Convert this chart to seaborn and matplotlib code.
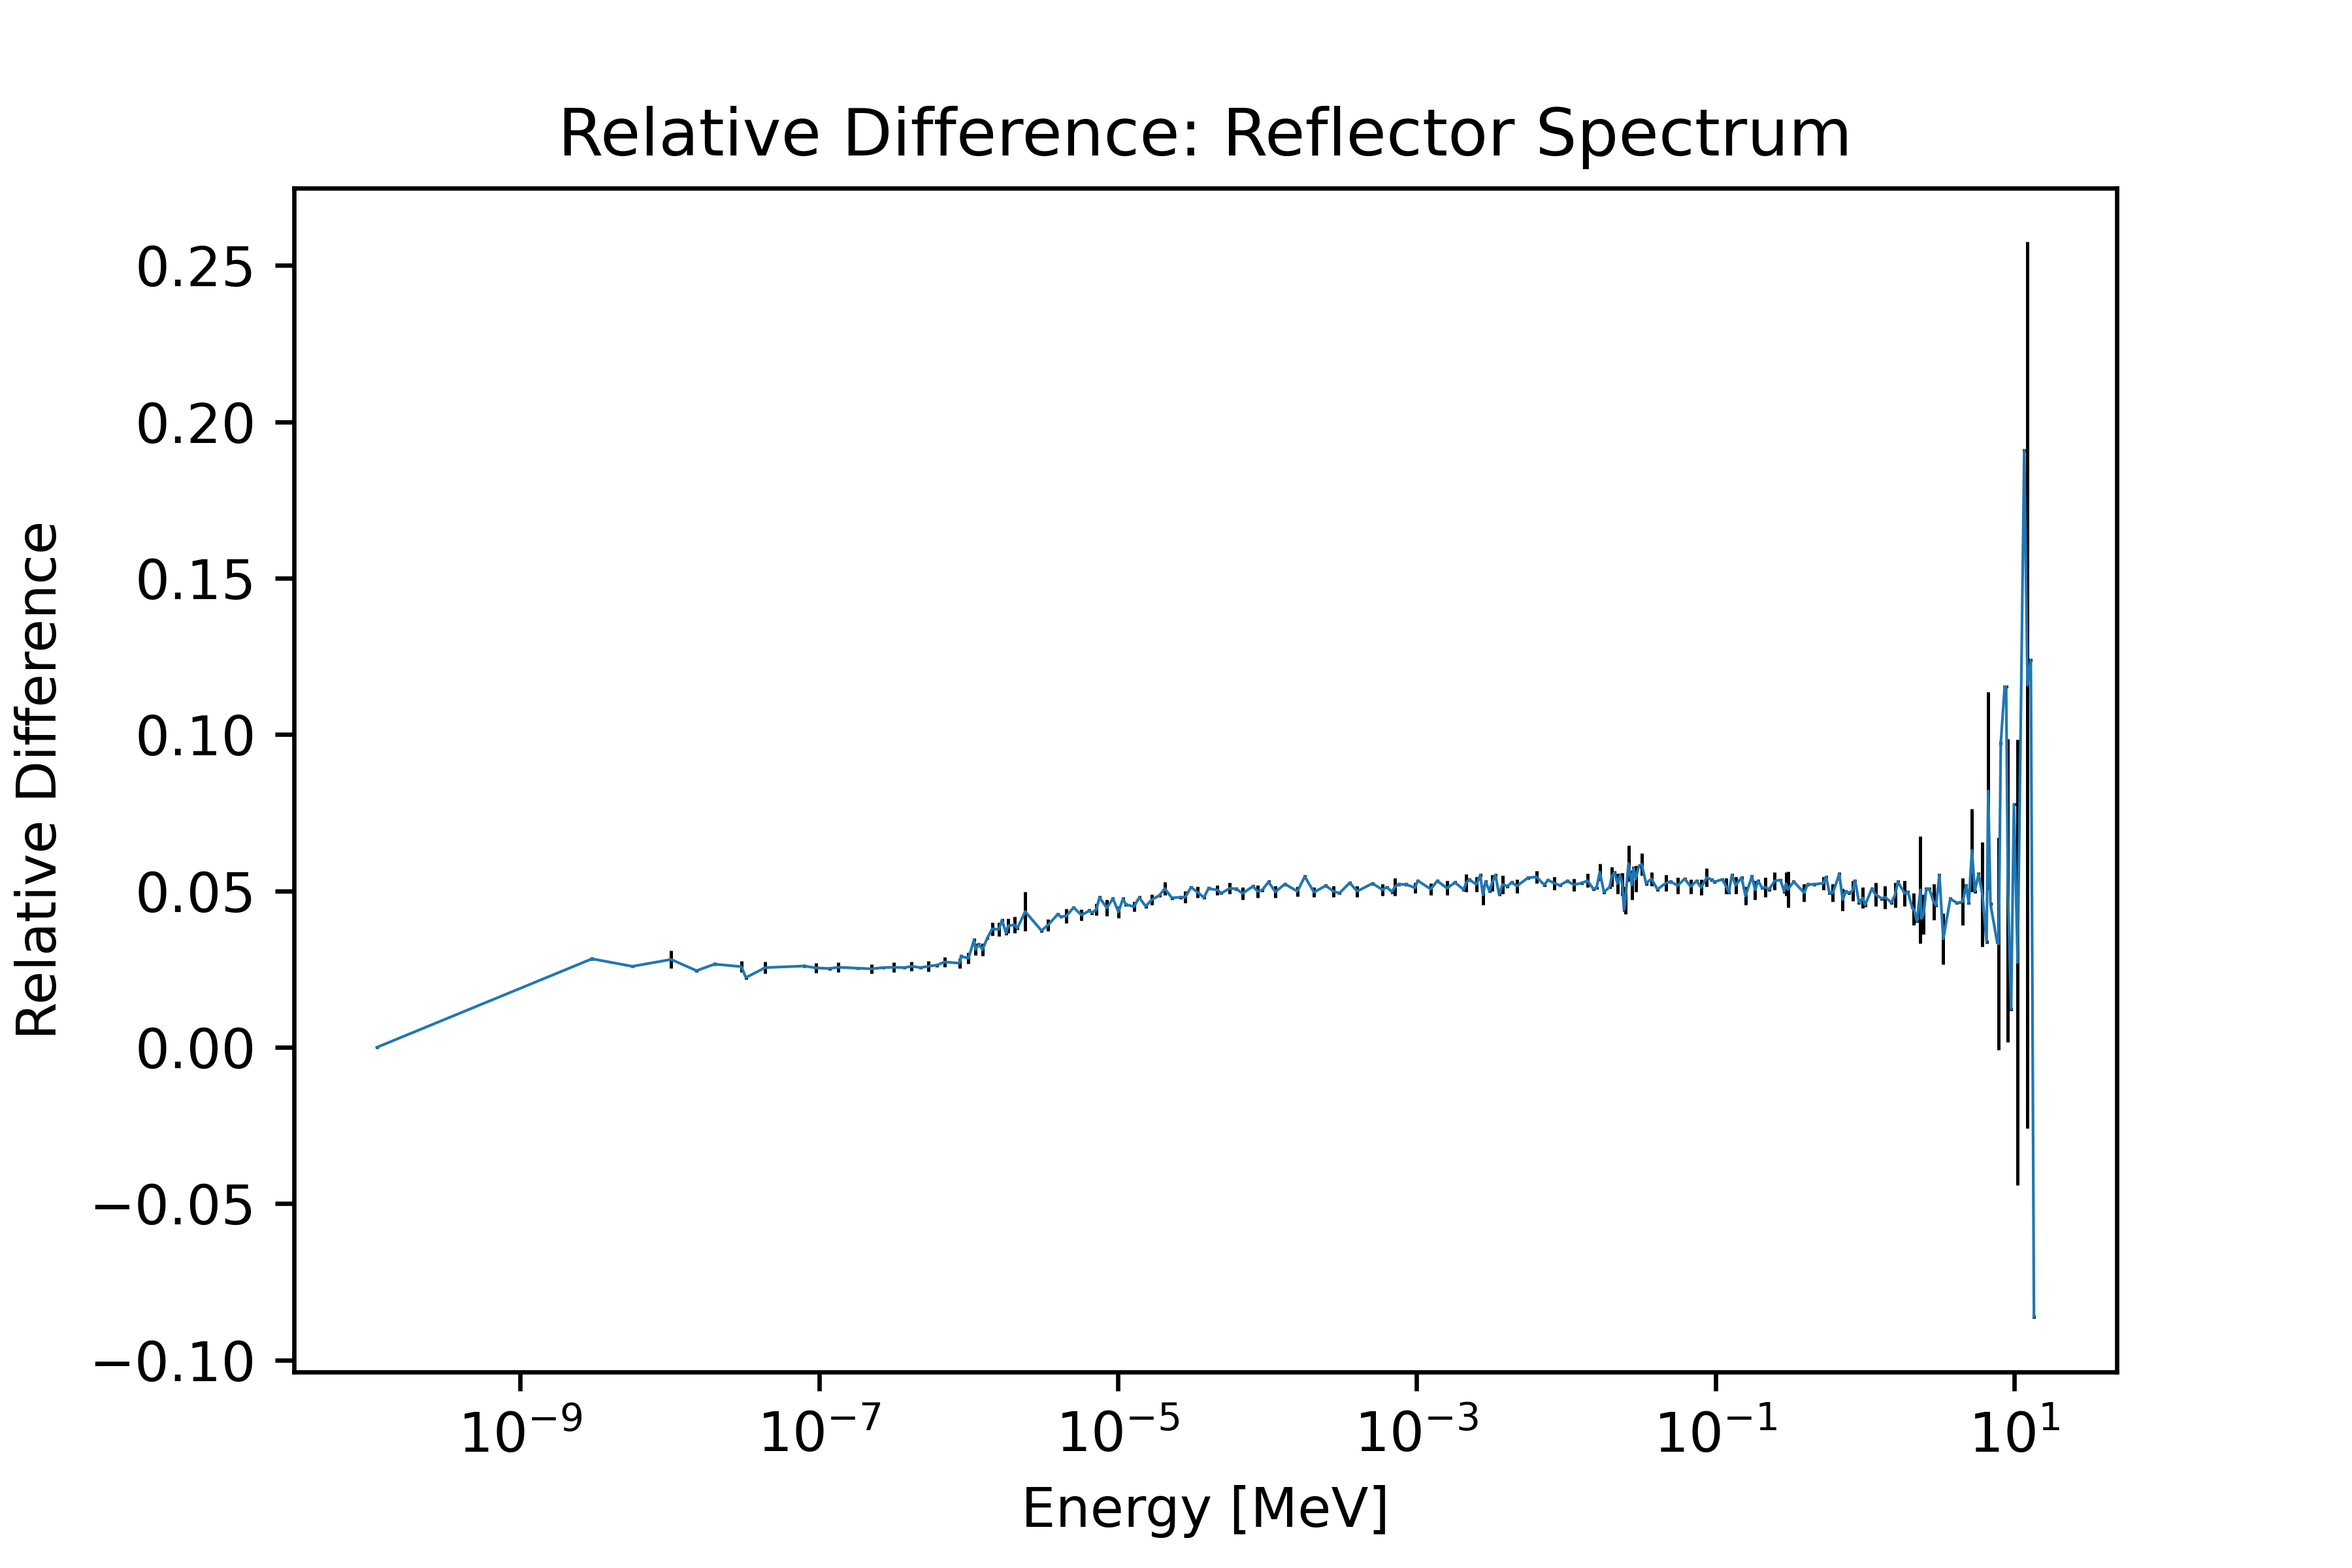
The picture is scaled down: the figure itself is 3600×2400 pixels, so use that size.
import numpy as np
import matplotlib
matplotlib.use("Agg")
import matplotlib.pyplot as plt
import seaborn as sns

# energy bins, stored as log10(E / MeV)
log_e_mev = [
    -9.96, -8.52, -8.25, -7.99, -7.82, -7.70, -7.52, -7.49, -7.36, -7.10,
    -7.02, -6.93, -6.87, -6.74, -6.65, -6.57, -6.50, -6.43, -6.38, -6.32,
    -6.27, -6.21, -6.16, -6.06, -6.05, -6.00, -5.963, -5.952, -5.930, -5.907,
    -5.874, -5.841, -5.796, -5.776, -5.748, -5.735, -5.693, -5.673,
    -5.620, -5.511, -5.468, -5.403, -5.380, -5.345, -5.296, -5.243, -5.191, -5.173,
    -5.144, -5.123, -5.074, -5.033, -4.996, -4.966, -4.947, -4.892, -4.857, -4.814,
    -4.773, -4.721, -4.686, -4.639, -4.580, -4.549, -4.510, -4.467, -4.424, -4.393,
    -4.334, -4.307, -4.252, -4.209, -4.165, -4.096, -4.065, -4.034, -3.991, -3.946,
    -3.882, -3.798, -3.749, -3.687, -3.608, -3.558, -3.517, -3.448, -3.398, -3.296,
    -3.229, -3.200, -3.165, -3.146, -3.121, -3.071, -3.011, -2.993, -2.906, -2.862,
    -2.797, -2.743, -2.685, -2.670, -2.648, -2.600, -2.574, -2.556, -2.539, -2.512,
    -2.495, -2.473, -2.448, -2.425, -2.393, -2.364, -2.329, -2.255, -2.198, -2.145,
    -2.122, -2.080, -2.041, -1.992, -1.949, -1.895, -1.857, -1.818, -1.796, -1.774,
    -1.746, -1.708, -1.695, -1.676, -1.656, -1.638, -1.624, -1.612, -1.603, -1.582,
    -1.560, -1.548, -1.534, -1.512, -1.494, -1.464, -1.429, -1.388, -1.333, -1.300,
    -1.254, -1.206, -1.166, -1.126, -1.096, -1.058, -1.024,
    -1.006, -0.954, -0.930, -0.910, -0.890, -0.865, -0.825, -0.799, -0.756, -0.734,
    -0.715, -0.688, -0.668, -0.642, -0.603, -0.565, -0.540, -0.528, -0.515, -0.476,
    -0.406, -0.383, -0.339, -0.278, -0.259, -0.237, -0.214, -0.171, -0.148, -0.128,
    -0.106, -0.082, -0.065, -0.039, -0.013, 0.002, 0.047, 0.071, 0.113, 0.136,
    0.177, 0.202, 0.221, 0.267, 0.288, 0.317, 0.328, 0.349, 0.372, 0.378,
    0.393, 0.411, 0.433, 0.460, 0.477, 0.499, 0.525, 0.572, 0.615, 0.637,
    0.656, 0.678, 0.696,
    0.717, 0.736, 0.761, 0.787, 0.815, 0.826, 0.841, 0.885, 0.896, 0.910,
    0.936, 0.946, 0.958, 0.979, 0.998, 1.023, 1.067, 1.089, 1.111, 1.132,
]

rel_diff = [
    0.0000, 0.0283, 0.0259, 0.0281, 0.0245, 0.0266, 0.0258, 0.0223, 0.0255, 0.0260,
    0.0254, 0.0252, 0.0256, 0.0253, 0.0251, 0.0255, 0.0256, 0.0255, 0.0259, 0.0255,
    0.0259, 0.0263, 0.0273, 0.0269, 0.0291, 0.0285, 0.0343, 0.0313, 0.0330, 0.0312,
    0.0349, 0.0379, 0.0377, 0.0407, 0.0365, 0.0388, 0.0392, 0.0381,
    0.0434, 0.0373, 0.0391, 0.0425, 0.0418, 0.0420, 0.0447, 0.0423, 0.0437, 0.0430,
    0.0441, 0.0479, 0.0446, 0.0476, 0.0433, 0.0475, 0.0457, 0.0450, 0.0479, 0.0451,
    0.0472, 0.0486, 0.0508, 0.0478, 0.0480, 0.0480, 0.0512, 0.0496, 0.0479, 0.0508,
    0.0503, 0.0493, 0.0508, 0.0507, 0.0492, 0.0515, 0.0499, 0.0503, 0.0529, 0.0497,
    0.0522, 0.0499, 0.0546, 0.0496, 0.0517, 0.0499, 0.0493, 0.0526, 0.0499, 0.0524,
    0.0504, 0.0512, 0.0497, 0.0513, 0.0521, 0.0521, 0.0510, 0.0533, 0.0506, 0.0532,
    0.0509, 0.0527, 0.0504, 0.0525, 0.0536, 0.0521, 0.0550, 0.0487, 0.0530, 0.0500,
    0.0526, 0.0551, 0.0489, 0.0521, 0.0515, 0.0527, 0.0516, 0.0542, 0.0545, 0.0519,
    0.0535, 0.0525, 0.0518, 0.0532, 0.0520, 0.0525, 0.0533, 0.0507, 0.0510, 0.0560,
    0.0496, 0.0513, 0.0546, 0.0559, 0.0524, 0.0550, 0.0521, 0.0440, 0.0471, 0.0588,
    0.0519, 0.0573, 0.0539, 0.0580, 0.0585, 0.0524, 0.0539, 0.0505, 0.0525, 0.0530,
    0.0517, 0.0539, 0.0514, 0.0532, 0.0511, 0.0543, 0.0536,
    0.0529, 0.0537, 0.0516, 0.0496, 0.0551, 0.0518, 0.0543, 0.0484, 0.0547, 0.0503,
    0.0533, 0.0510, 0.0512, 0.0505, 0.0532, 0.0535, 0.0499, 0.0523, 0.0505, 0.0530,
    0.0494, 0.0521, 0.0521, 0.0525, 0.0544, 0.0494, 0.0494, 0.0554, 0.0472, 0.0499,
    0.0494, 0.0501, 0.0533, 0.0463, 0.0478, 0.0455, 0.0507, 0.0489, 0.0476, 0.0480,
    0.0463, 0.0487, 0.0529, 0.0492, 0.0497, 0.0447, 0.0442, 0.0404, 0.0504, 0.0412,
    0.0425, 0.0506, 0.0506, 0.0465, 0.0454, 0.0551, 0.0347, 0.0475, 0.0462, 0.0464,
    0.0466, 0.0518, 0.0462,
    0.0630, 0.0499, 0.0554, 0.0489, 0.0338, 0.0820, 0.0458, 0.0338, 0.0331, 0.0973,
    0.1153, 0.1153, 0.0501, 0.0122, 0.0777, 0.0271, 0.1908, 0.1158, 0.1237, -0.0861,
]

rel_err = [
    0.0005, 0.0005, 0.0005, 0.0028, 0.0005, 0.0005, 0.0018, 0.0005, 0.0019, 0.0005,
    0.0016, 0.0005, 0.0015, 0.0005, 0.0015, 0.0005, 0.0016, 0.0005, 0.0015, 0.0005,
    0.0016, 0.0005, 0.0016, 0.0016, 0.0005, 0.0018, 0.0005, 0.0019, 0.0005, 0.0020,
    0.0005, 0.0021, 0.0022, 0.0005, 0.0005, 0.0023, 0.0026, 0.0005,
    0.0063, 0.0005, 0.0018, 0.0005, 0.0005, 0.0022, 0.0005, 0.0018, 0.0005, 0.0005,
    0.0019, 0.0005, 0.0026, 0.0005, 0.0019, 0.0005, 0.0005, 0.0016, 0.0005, 0.0005,
    0.0017, 0.0005, 0.0021, 0.0005, 0.0005, 0.0019, 0.0005, 0.0017, 0.0005, 0.0005,
    0.0016, 0.0005, 0.0018, 0.0005, 0.0020, 0.0005, 0.0020, 0.0005, 0.0005, 0.0019,
    0.0005, 0.0016, 0.0005, 0.0016, 0.0005, 0.0018, 0.0005, 0.0005, 0.0018, 0.0005,
    0.0019, 0.0005, 0.0005, 0.0029, 0.0005, 0.0005, 0.0017, 0.0005, 0.0019, 0.0005,
    0.0023, 0.0005, 0.0005, 0.0028, 0.0005, 0.0024, 0.0005, 0.0031, 0.0005, 0.0005,
    0.0026, 0.0005, 0.0005, 0.0029, 0.0005, 0.0005, 0.0022, 0.0005, 0.0020, 0.0005,
    0.0005, 0.0021, 0.0005, 0.0005, 0.0020, 0.0005, 0.0022, 0.0005, 0.0005, 0.0028,
    0.0005, 0.0005, 0.0031, 0.0005, 0.0032, 0.0005, 0.0036, 0.0005, 0.0044, 0.0057,
    0.0047, 0.0005, 0.0042, 0.0005, 0.0035, 0.0005, 0.0022, 0.0005, 0.0026, 0.0005,
    0.0027, 0.0005, 0.0024, 0.0005, 0.0025, 0.0029, 0.0005,
    0.0005, 0.0005, 0.0026, 0.0005, 0.0005, 0.0028, 0.0005, 0.0029, 0.0005, 0.0030,
    0.0005, 0.0005, 0.0031, 0.0005, 0.0029, 0.0005, 0.0005, 0.0038, 0.0058, 0.0005,
    0.0029, 0.0005, 0.0005, 0.0021, 0.0005, 0.0005, 0.0029, 0.0005, 0.0036, 0.0005,
    0.0005, 0.0032, 0.0005, 0.0005, 0.0033, 0.0005, 0.0005, 0.0038, 0.0005, 0.0036,
    0.0005, 0.0039, 0.0005, 0.0041, 0.0005, 0.0005, 0.0051, 0.0005, 0.0171, 0.0005,
    0.0064, 0.0005, 0.0005, 0.0058, 0.0005, 0.0005, 0.0081, 0.0005, 0.0005, 0.0005,
    0.0075, 0.0005, 0.0005,
    0.0132, 0.0005, 0.0005, 0.0168, 0.0005, 0.0316, 0.0005, 0.0005, 0.0339, 0.0005,
    0.0005, 0.0005, 0.0485, 0.0005, 0.0005, 0.0712, 0.0005, 0.1417, 0.0005, 0.0005,
]

energy = 10.0 ** np.array(log_e_mev)

fig, ax = plt.subplots(figsize=(6, 4), dpi=600)
fig.subplots_adjust(left=0.125, right=0.9, bottom=0.125, top=0.88)
ax.set_xscale('log')

ax.errorbar(energy, rel_diff, yerr=rel_err, fmt='none', ecolor='k',
            elinewidth=0.6, zorder=1.9)
sns.lineplot(x=energy, y=rel_diff, ax=ax, color='#1f77b4', linewidth=0.5,
             sort=False, estimator=None, zorder=2)

ax.set_title('Relative Difference: Reflector Spectrum')
ax.set_xlabel('Energy [MeV]')
ax.set_ylabel('Relative Difference')

fig.savefig('out.png', dpi=600)
